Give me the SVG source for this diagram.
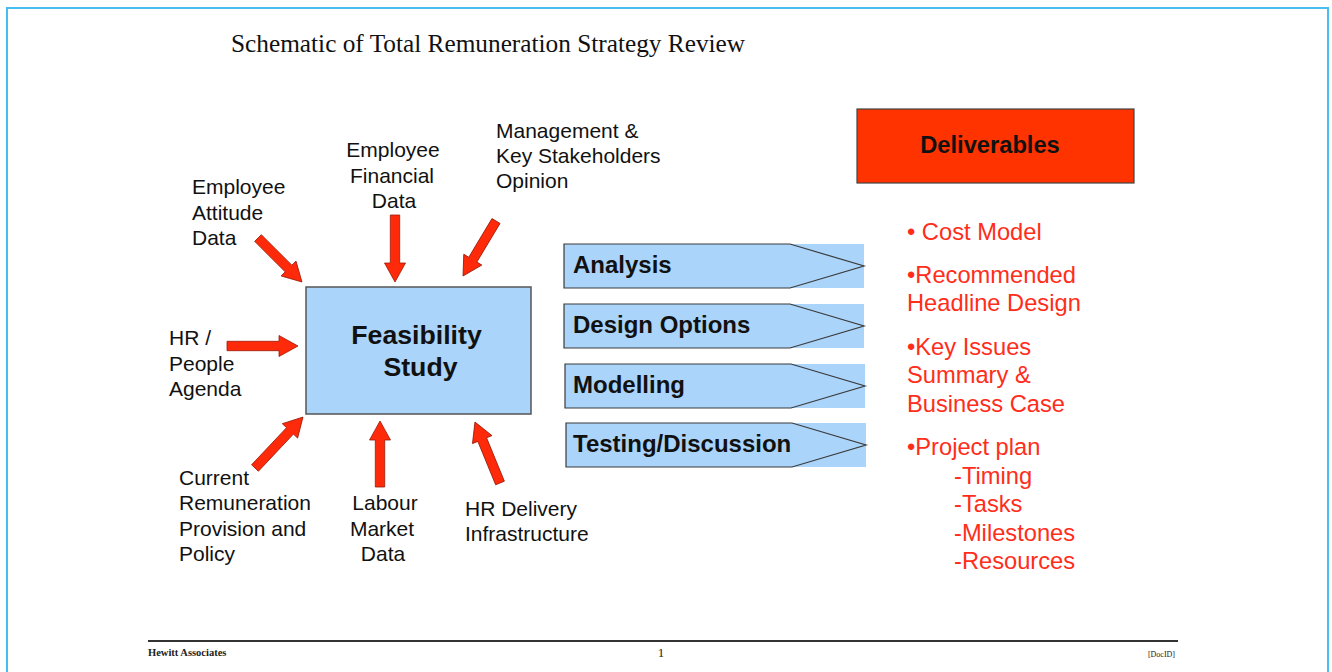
<svg xmlns="http://www.w3.org/2000/svg" width="1332" height="672" viewBox="0 0 1332 672">
<style>
.lbl{font-family:"Liberation Sans",Arial,sans-serif;font-size:21px;fill:#111}
.proc{font-family:"Liberation Sans",Arial,sans-serif;font-size:24px;font-weight:bold;fill:#111}
.red{font-family:"Liberation Sans",Arial,sans-serif;font-size:23.7px;fill:#ff2d1a}
.arrow{fill:#ff2a0a;stroke:#9a1a08;stroke-width:0.8}
.pfill{fill:#aad4fa}
.pline{fill:none;stroke:#3a3a3a;stroke-width:1.2}
.foot{font-family:"Liberation Serif","Times New Roman",serif;fill:#222}
</style>
<rect width="1332" height="672" fill="#ffffff"/>
<rect x="7" y="8" width="1321" height="700" fill="none" stroke="#48bdf0" stroke-width="2"/>
<text x="231" y="52" font-family="'Liberation Serif','Times New Roman',serif" font-size="25.3" fill="#111">Schematic of Total Remuneration Strategy Review</text>

<g id="feasibility">
<rect x="306" y="287" width="225" height="127" fill="#aad4fa" stroke="#555" stroke-width="1.5"/>
<text x="416.5" y="344" class="proc" style="font-size:26.7px" text-anchor="middle">Feasibility</text>
<text x="420.5" y="376" class="proc" style="font-size:26.7px" text-anchor="middle">Study</text>
</g>

<g id="connectors">
<path class="arrow" transform="translate(258,238) rotate(45)" d="M0,-4.7 L43.2,-4.7 L43.2,-10.5 L62.2,0 L43.2,10.5 L43.2,4.7 L0,4.7 Z"/>
<path class="arrow" transform="translate(395,215) rotate(90)" d="M0,-4.7 L48,-4.7 L48,-10.5 L67,0 L48,10.5 L48,4.7 L0,4.7 Z"/>
<path class="arrow" transform="translate(496,221) rotate(120.96)" d="M0,-4.7 L45.1,-4.7 L45.1,-10.5 L64.1,0 L45.1,10.5 L45.1,4.7 L0,4.7 Z"/>
<path class="arrow" transform="translate(227,346) rotate(0)" d="M0,-4.7 L52,-4.7 L52,-10.5 L71,0 L52,10.5 L52,4.7 L0,4.7 Z"/>
<path class="arrow" transform="translate(255,468) rotate(-46.7)" d="M0,-4.7 L51,-4.7 L51,-10.5 L70,0 L51,10.5 L51,4.7 L0,4.7 Z"/>
<path class="arrow" transform="translate(380,487) rotate(-90)" d="M0,-4.7 L47,-4.7 L47,-10.5 L66,0 L47,10.5 L47,4.7 L0,4.7 Z"/>
<path class="arrow" transform="translate(500,483) rotate(-112.3)" d="M0,-4.7 L46.9,-4.7 L46.9,-10.5 L65.9,0 L46.9,10.5 L46.9,4.7 L0,4.7 Z"/>
</g>

<g id="lbl-attitude">
<text class="lbl" x="192" y="194">Employee</text>
<text class="lbl" x="192" y="220">Attitude</text>
<text class="lbl" x="192" y="245">Data</text>
</g>
<g id="lbl-financial">
<text class="lbl" x="393" y="157" text-anchor="middle">Employee</text>
<text class="lbl" x="392" y="183" text-anchor="middle">Financial</text>
<text class="lbl" x="394" y="208" text-anchor="middle">Data</text>
</g>
<g id="lbl-management">
<text class="lbl" x="496" y="138">Management &amp;</text>
<text class="lbl" x="496" y="163">Key Stakeholders</text>
<text class="lbl" x="496" y="188">Opinion</text>
</g>
<g id="lbl-hr">
<text class="lbl" x="169" y="345">HR /</text>
<text class="lbl" x="169" y="371">People</text>
<text class="lbl" x="169" y="396">Agenda</text>
</g>
<g id="lbl-current">
<text class="lbl" x="179" y="485">Current</text>
<text class="lbl" x="179" y="510">Remuneration</text>
<text class="lbl" x="179" y="536">Provision and</text>
<text class="lbl" x="179" y="561">Policy</text>
</g>
<g id="lbl-labour">
<text class="lbl" x="385" y="510" text-anchor="middle">Labour</text>
<text class="lbl" x="382" y="536" text-anchor="middle">Market</text>
<text class="lbl" x="383" y="561" text-anchor="middle">Data</text>
</g>
<g id="lbl-hrdelivery">
<text class="lbl" x="465" y="516">HR Delivery</text>
<text class="lbl" x="465" y="541">Infrastructure</text>
</g>

<g id="analysis">
<rect class="pfill" x="564" y="244" width="300" height="44"/>
<path class="pline" d="M564,244 L790,244 L864,266 L790,288 L564,288 Z"/>
<text class="proc" x="573" y="273">Analysis</text>
</g>
<g id="design-options">
<rect class="pfill" x="564" y="304" width="300" height="44"/>
<path class="pline" d="M564,304 L790,304 L864,326 L790,348 L564,348 Z"/>
<text class="proc" x="573" y="333">Design Options</text>
</g>
<g id="modelling">
<rect class="pfill" x="565" y="364" width="300" height="44"/>
<path class="pline" d="M565,364 L791,364 L865,386 L791,408 L565,408 Z"/>
<text class="proc" x="573" y="393">Modelling</text>
</g>
<g id="testing">
<rect class="pfill" x="566" y="423" width="300" height="44"/>
<path class="pline" d="M566,423 L792,423 L866,445 L792,467 L566,467 Z"/>
<text class="proc" x="573" y="452">Testing/Discussion</text>
</g>

<g id="deliverables">
<rect x="857" y="109" width="277" height="74" fill="#ff3300" stroke="#444" stroke-width="1.2"/>
<text class="proc" x="990" y="153" style="font-size:23.7px" text-anchor="middle">Deliverables</text>
</g>

<g id="deliverables-list">
<text class="red" x="907" y="240">• Cost Model</text>
<text class="red" x="907" y="283">•Recommended</text>
<text class="red" x="907" y="311">Headline Design</text>
<text class="red" x="907" y="355">•Key Issues</text>
<text class="red" x="907" y="383">Summary &amp;</text>
<text class="red" x="907" y="412">Business Case</text>
<text class="red" x="907" y="455">•Project plan</text>
<text class="red" x="954" y="484">-Timing</text>
<text class="red" x="954" y="512">-Tasks</text>
<text class="red" x="954" y="541">-Milestones</text>
<text class="red" x="954" y="569">-Resources</text>
</g>

<g id="footer">
<line x1="148" y1="641" x2="1178" y2="641" stroke="#333" stroke-width="2"/>
<text class="foot" x="148" y="656" font-size="10.5" font-weight="bold">Hewitt Associates</text>
<text class="foot" x="661" y="657" font-size="13" text-anchor="middle">1</text>
<text class="foot" x="1175" y="657" font-size="8" text-anchor="end">[DocID]</text>
</g>
</svg>
